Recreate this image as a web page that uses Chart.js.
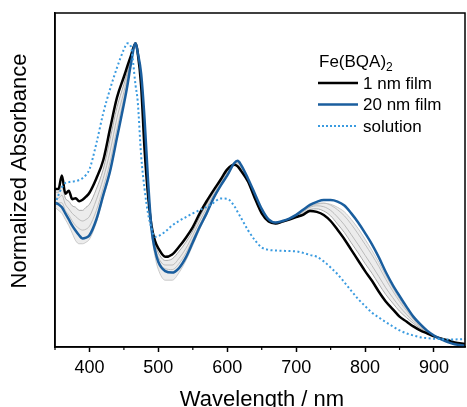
<!DOCTYPE html>
<html>
<head>
<meta charset="utf-8">
<script src="https://cdn.jsdelivr.net/npm/chart.js@4"></script>
<style>
  body { margin: 0; background: #fff; }
  canvas { display: block; }
</style>
</head>
<body>
<canvas id="grafico" width="467" height="407"></canvas>
<script>
// comprimentos de onda (nm) comuns a todas as curvas
const wavelengths = [350, 355, 360, 365, 370, 375, 380, 385, 390, 395, 400, 410, 420, 430, 440, 450, 455, 460, 467, 470,
  475, 480, 485, 490, 495, 500, 510, 520, 530, 540, 550, 560, 570, 580, 590, 600, 610, 615, 620, 630,
  640, 650, 660, 670, 680, 690, 700, 710, 720, 730, 740, 750, 760, 770, 780, 790, 800, 810, 820, 830,
  840, 850, 860, 870, 880, 890, 900, 910, 920, 930, 945];

const film1nm = [0.52, 0.52, 0.565, 0.505, 0.515, 0.487, 0.49, 0.48, 0.485, 0.495, 0.508, 0.555, 0.615, 0.72, 0.822, 0.89, 0.925, 0.958, 1.0, 0.97,
  0.86, 0.65, 0.50, 0.40, 0.35, 0.325, 0.297, 0.305, 0.33, 0.36, 0.395, 0.44, 0.48, 0.516, 0.55, 0.585, 0.60, 0.595, 0.58, 0.545,
  0.49, 0.44, 0.413, 0.407, 0.413, 0.42, 0.428, 0.435, 0.448, 0.445, 0.435, 0.415, 0.386, 0.355, 0.32, 0.285, 0.25, 0.218, 0.182, 0.15,
  0.125, 0.10, 0.084, 0.068, 0.055, 0.045, 0.035, 0.028, 0.022, 0.015, 0.01];

const film20nm = [0.475, 0.47, 0.46, 0.44, 0.42, 0.40, 0.383, 0.368, 0.357, 0.36, 0.368, 0.42, 0.50, 0.58, 0.69, 0.80, 0.86, 0.93, 1.0, 0.97,
  0.90, 0.75, 0.55, 0.39, 0.32, 0.28, 0.25, 0.245, 0.26, 0.295, 0.345, 0.395, 0.44, 0.49, 0.53, 0.565, 0.605, 0.613, 0.60, 0.555,
  0.505, 0.455, 0.42, 0.41, 0.415, 0.423, 0.435, 0.452, 0.468, 0.478, 0.484, 0.484, 0.479, 0.466, 0.44, 0.41, 0.375, 0.338, 0.295, 0.247,
  0.205, 0.168, 0.133, 0.10, 0.075, 0.054, 0.038, 0.026, 0.016, 0.009, 0.005];

const solution = [0.47, 0.50, 0.525, 0.54, 0.543, 0.545, 0.546, 0.55, 0.556, 0.567, 0.585, 0.67, 0.77, 0.85, 0.92, 0.98, 1.0, 0.99, 0.86, 0.81,
  0.63, 0.52, 0.44, 0.39, 0.363, 0.365, 0.38, 0.40, 0.415, 0.428, 0.44, 0.451, 0.462, 0.475, 0.489, 0.488, 0.465, 0.445, 0.425, 0.385,
  0.352, 0.328, 0.32, 0.318, 0.317, 0.316, 0.315, 0.31, 0.303, 0.297, 0.282, 0.262, 0.24, 0.213, 0.185, 0.158, 0.135, 0.113, 0.097, 0.082,
  0.068, 0.055, 0.045, 0.038, 0.032, 0.029, 0.027, 0.026, 0.025, 0.025, 0.026];

// espessuras intermediarias (linhas cinzas)
const grayA = [0.51, 0.51, 0.53, 0.49, 0.48, 0.465, 0.46, 0.45, 0.45, 0.46, 0.47, 0.52, 0.585, 0.685, 0.79, 0.865, 0.905, 0.95, 1.0, 0.97,
  0.87, 0.68, 0.51, 0.40, 0.34, 0.31, 0.285, 0.29, 0.315, 0.345, 0.382, 0.428, 0.47, 0.51, 0.545, 0.58, 0.601, 0.60, 0.585, 0.548,
  0.493, 0.444, 0.415, 0.408, 0.413, 0.421, 0.43, 0.44, 0.453, 0.455, 0.448, 0.432, 0.405, 0.377, 0.343, 0.31, 0.275, 0.243, 0.207, 0.173,
  0.145, 0.118, 0.097, 0.078, 0.062, 0.049, 0.037, 0.028, 0.02, 0.013, 0.008];
const grayB = [0.49, 0.49, 0.50, 0.47, 0.455, 0.44, 0.43, 0.42, 0.415, 0.42, 0.43, 0.485, 0.555, 0.645, 0.755, 0.84, 0.89, 0.945, 1.0, 0.97,
  0.885, 0.70, 0.52, 0.395, 0.33, 0.295, 0.27, 0.27, 0.292, 0.325, 0.368, 0.415, 0.458, 0.502, 0.54, 0.575, 0.603, 0.606, 0.592, 0.552,
  0.498, 0.448, 0.417, 0.409, 0.414, 0.422, 0.432, 0.445, 0.46, 0.465, 0.462, 0.45, 0.428, 0.402, 0.37, 0.337, 0.302, 0.268, 0.232, 0.195,
  0.163, 0.133, 0.108, 0.085, 0.067, 0.051, 0.038, 0.028, 0.019, 0.012, 0.007];
const grayC = [0.48, 0.475, 0.475, 0.45, 0.435, 0.415, 0.40, 0.39, 0.385, 0.388, 0.398, 0.45, 0.525, 0.61, 0.72, 0.82, 0.875, 0.94, 1.0, 0.97,
  0.895, 0.725, 0.535, 0.39, 0.325, 0.285, 0.258, 0.255, 0.275, 0.31, 0.355, 0.403, 0.448, 0.495, 0.535, 0.57, 0.604, 0.609, 0.597, 0.555,
  0.502, 0.452, 0.419, 0.41, 0.415, 0.423, 0.434, 0.449, 0.464, 0.472, 0.474, 0.467, 0.452, 0.432, 0.404, 0.372, 0.338, 0.303, 0.265, 0.223,
  0.185, 0.15, 0.12, 0.092, 0.07, 0.052, 0.038, 0.027, 0.018, 0.011, 0.006];
const grayD = [0.46, 0.45, 0.44, 0.42, 0.40, 0.375, 0.35, 0.34, 0.34, 0.345, 0.355, 0.41, 0.49, 0.575, 0.69, 0.80, 0.86, 0.93, 1.0, 0.97,
  0.90, 0.74, 0.54, 0.38, 0.30, 0.255, 0.22, 0.22, 0.245, 0.285, 0.335, 0.388, 0.435, 0.485, 0.527, 0.563, 0.60, 0.607, 0.597, 0.553,
  0.50, 0.45, 0.416, 0.405, 0.41, 0.42, 0.432, 0.447, 0.462, 0.47, 0.473, 0.47, 0.46, 0.445, 0.42, 0.39, 0.355, 0.318, 0.278, 0.235,
  0.195, 0.158, 0.125, 0.096, 0.072, 0.053, 0.038, 0.027, 0.017, 0.01, 0.006];

const majorTicks = [400, 500, 600, 700, 800, 900];
const minorTicks = [350, 450, 550, 650, 750, 850];
const legendTitle = "Fe(BQA)";
const legendSub = "2";
const legendLabels = ["1 nm film", "20 nm film", "solution"];
const xTitle = "Wavelength / nm";
const yTitle = "Normalized Absorbance";

const FONTE = 'Arial, "Liberation Sans", Helvetica, sans-serif';
const AZUL = "#1a5e9e";
const AZUL_CLARO = "#3a9be0";

const pontos = serie => wavelengths.map((w, i) => ({ x: w, y: serie[i] }));

const cinza = (serie, cor, preenche) => ({
  data: pontos(serie), borderColor: cor, borderWidth: 1, pointRadius: 0,
  cubicInterpolationMode: "monotone", order: 5,
  fill: preenche, backgroundColor: "rgba(200,200,200,0.35)"
});

// plugin: moldura, ticks menores, titulos dos eixos e legenda
const extras = {
  id: "extras",
  afterDraw(chart) {
    const ctx = chart.ctx;
    const a = chart.chartArea;
    const x = chart.scales.x;
    ctx.save();
    ctx.strokeStyle = "#000";
    ctx.lineWidth = 1.5;
    ctx.strokeRect(a.left, a.top, a.right - a.left, a.bottom - a.top);

    ctx.lineWidth = 1.2;
    minorTicks.forEach(v => {
      const px = x.getPixelForValue(v);
      ctx.beginPath();
      ctx.moveTo(px, a.bottom);
      ctx.lineTo(px, a.bottom + 3);
      ctx.stroke();
    });

    ctx.fillStyle = "#000";
    ctx.font = "22px " + FONTE;
    ctx.textAlign = "center";
    ctx.textBaseline = "alphabetic";
    ctx.fillText(xTitle, (a.left + a.right) / 2 + 2, 406);

    ctx.save();
    ctx.translate(20, 171);
    ctx.rotate(-Math.PI / 2);
    ctx.font = "22px " + FONTE;
    ctx.textBaseline = "middle";
    ctx.fillText(yTitle, 0, 0);
    ctx.restore();

    // legenda
    ctx.textAlign = "left";
    ctx.font = "17px " + FONTE;
    ctx.fillText(legendTitle, 319, 67);
    const w = ctx.measureText(legendTitle).width;
    ctx.font = "12px " + FONTE;
    ctx.fillText(legendSub, 319 + w, 71);

    const estilos = [
      { cor: "#000", largura: 2.5, traco: [] },
      { cor: AZUL, largura: 2.5, traco: [] },
      { cor: AZUL_CLARO, largura: 2, traco: [2, 2] }
    ];
    ctx.font = "17px " + FONTE;
    ctx.textBaseline = "middle";
    legendLabels.forEach((txt, i) => {
      const y = 83 + i * 21.5;
      const e = estilos[i];
      ctx.beginPath();
      ctx.strokeStyle = e.cor;
      ctx.lineWidth = e.largura;
      ctx.setLineDash(e.traco);
      ctx.moveTo(318, y);
      ctx.lineTo(358, y);
      ctx.stroke();
      ctx.setLineDash([]);
      ctx.fillText(txt, 363, y + 1);
    });
    ctx.restore();
  }
};

new Chart(document.getElementById("grafico"), {
  type: "line",
  data: {
    datasets: [
      cinza(grayD, "rgba(190,190,190,0.8)", 3),
      cinza(grayC, "rgba(170,170,170,0.8)", false),
      cinza(grayB, "rgba(160,160,160,0.8)", false),
      cinza(grayA, "rgba(140,140,140,0.8)", false),
      { label: legendLabels[2], data: pontos(solution), borderColor: AZUL_CLARO, borderWidth: 2,
        borderDash: [2, 2.5], pointRadius: 0, cubicInterpolationMode: "monotone", order: 1 },
      { label: legendLabels[0], data: pontos(film1nm), borderColor: "#000", borderWidth: 2.5,
        pointRadius: 0, cubicInterpolationMode: "monotone", order: 3 },
      { label: legendLabels[1], data: pontos(film20nm), borderColor: AZUL, borderWidth: 2.5,
        pointRadius: 0, cubicInterpolationMode: "monotone", order: 2 }
    ]
  },
  options: {
    responsive: false,
    animation: false,
    layout: { padding: { top: 13, right: 2, left: 0, bottom: 0 } },
    plugins: { legend: { display: false }, tooltip: { enabled: false } },
    scales: {
      x: {
        type: "linear",
        min: 350,
        max: 945,
        afterBuildTicks: s => { s.ticks = majorTicks.map(v => ({ value: v })); },
        afterFit: s => { s.height = 60; },
        ticks: { color: "#000", font: { size: 18, family: FONTE }, padding: 5, maxRotation: 0 },
        grid: { drawOnChartArea: false, drawTicks: true, tickLength: 5, tickWidth: 1.5, tickColor: "#000" },
        border: { color: "#000", width: 1.5 }
      },
      y: {
        min: 0,
        max: 1.1,
        afterFit: s => { s.width = 55; },
        ticks: { display: false },
        grid: { drawOnChartArea: false, drawTicks: false },
        border: { color: "#000", width: 1.5 }
      }
    }
  },
  plugins: [extras]
});
</script>
</body>
</html>
